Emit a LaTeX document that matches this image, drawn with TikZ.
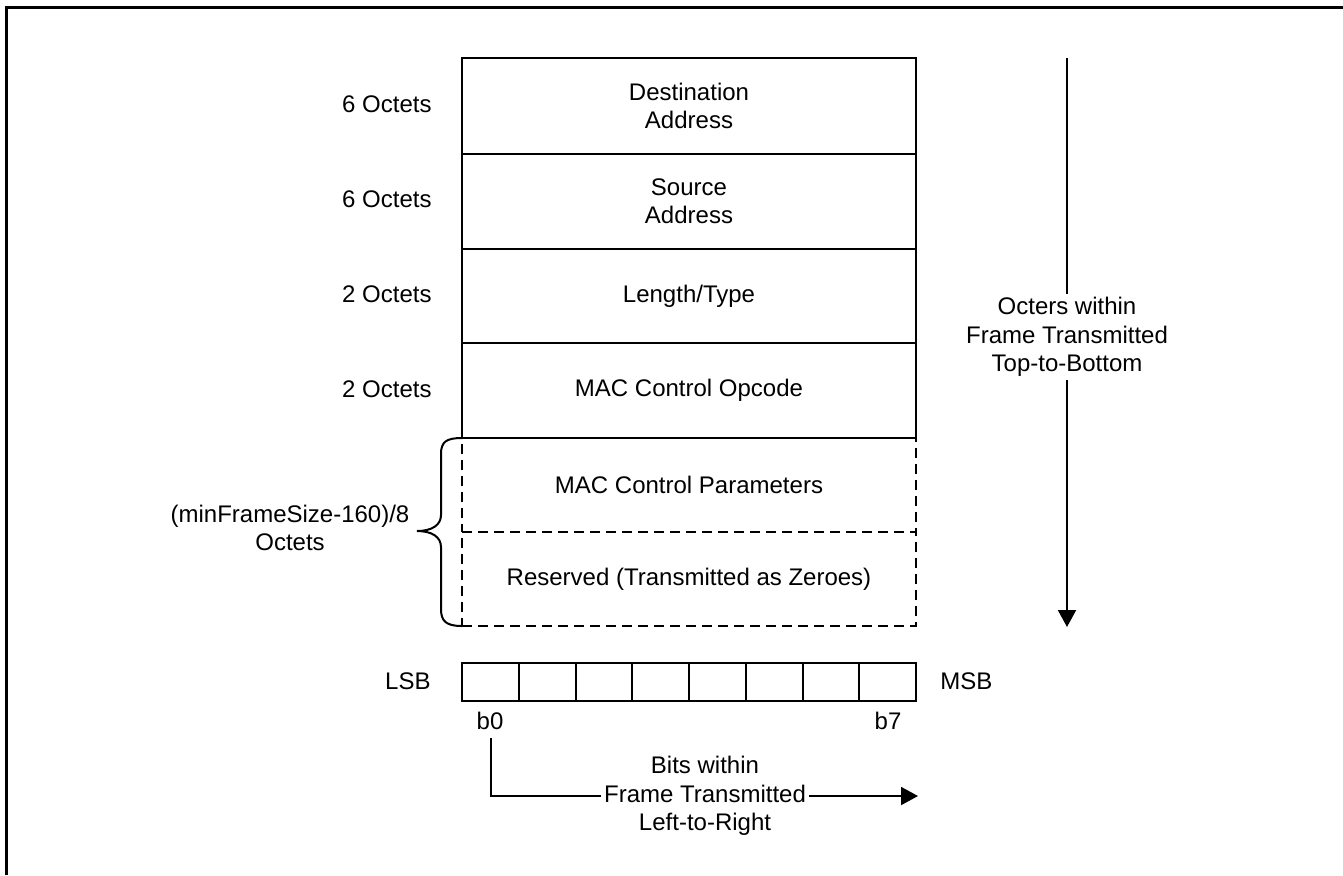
\documentclass[tikz,border=0pt]{standalone}
\usepackage{fontspec}
\setmainfont{Liberation Sans}
\usetikzlibrary{arrows.meta}
\begin{document}
\begin{tikzpicture}[x=0.5pt,y=-0.5pt,
  every node/.style={font=\fontsize{12}{14.2}\selectfont},
  field/.style={draw,line width=1pt,minimum width=227pt,inner sep=0pt,align=center},
  dfield/.style={field,dash pattern=on 5pt off 3pt},
  bitcell/.style={draw,line width=1pt,minimum width=28.375pt,minimum height=19pt,inner sep=0pt},
  lab/.style={inner sep=0pt,align=center},
  arr/.style={line width=1pt,-{Triangle[width=9pt,length=8.5pt]}},
  gap/.style={fill=white,inner sep=1.5pt,align=center}]
\useasboundingbox (0,0) rectangle (1343,875);
% frame border
\draw[line width=1.5pt] (6,875) -- (6,7.5) -- (1343,7.5);
% dashed rows
\node[dfield,minimum height=47pt] (mcp) at (689,485) {MAC Control Parameters};
\node[dfield,minimum height=47pt] (res) at (689,579) {Reserved (Transmitted as Zeroes)};
% solid rows
\node[field,minimum height=48pt] (da) at (689,106) {Destination\\Address};
\node[field,minimum height=47.5pt] (sa) at (689,201.5) {Source\\Address};
\node[field,minimum height=47pt] (lt) at (689,296) {Length/Type};
\node[field,minimum height=47.5pt] (op) at (689,390.5) {MAC Control Opcode};
% left labels
\node[lab,anchor=east] (l1) at (432,104) {6 Octets};
\node[lab,anchor=east] (l2) at (432,199) {6 Octets};
\node[lab,anchor=east] (l3) at (432,294) {2 Octets};
\node[lab,anchor=east] (l4) at (432,389) {2 Octets};
% brace
\coordinate (bt) at (462,438);
\coordinate (bb) at (462,626);
\coordinate (btip) at (417,531);
\draw[line width=1pt] (bt) .. controls (446,438) and (441,442) .. (441,454)
  -- (441,515) .. controls (441,525) and (432,531) .. (btip)
  .. controls (432,531) and (441,537) .. (441,547)
  -- (441,609) .. controls (441,621) and (446,626) .. (bb);
\node[lab] (bl) at (290,528) {(minFrameSize-160)/8\\Octets};
% right arrow
\coordinate (ta) at (1067,58);
\coordinate (tb) at (1067,627);
\draw[arr] (ta) -- (tb);
\node[gap] (tl) at (1067,337) {Octers within\\Frame Transmitted\\Top-to-Bottom};
% bit cells
\foreach \i in {0,...,7} {
  \node[bitcell] (c\i) at ({462+56.75*(\i+0.5)},681.5) {};
}
\node[lab,anchor=east] (lsb) at (431,681.5) {LSB};
\node[lab,anchor=west] (msb) at (940,681.5) {MSB};
\node[lab] (b0) at (490,721) {b0};
\node[lab] (b7) at (888,721) {b7};
% bit arrow
\coordinate (s0) at (491,738);
\coordinate (s1) at (491,796);
\coordinate (s2) at (918,796);
\draw[arr] (s0) -- (s1) -- (s2);
\node[gap] (bitl) at (705,796) {Bits within\\Frame Transmitted\\Left-to-Right};
\end{tikzpicture}
\end{document}
